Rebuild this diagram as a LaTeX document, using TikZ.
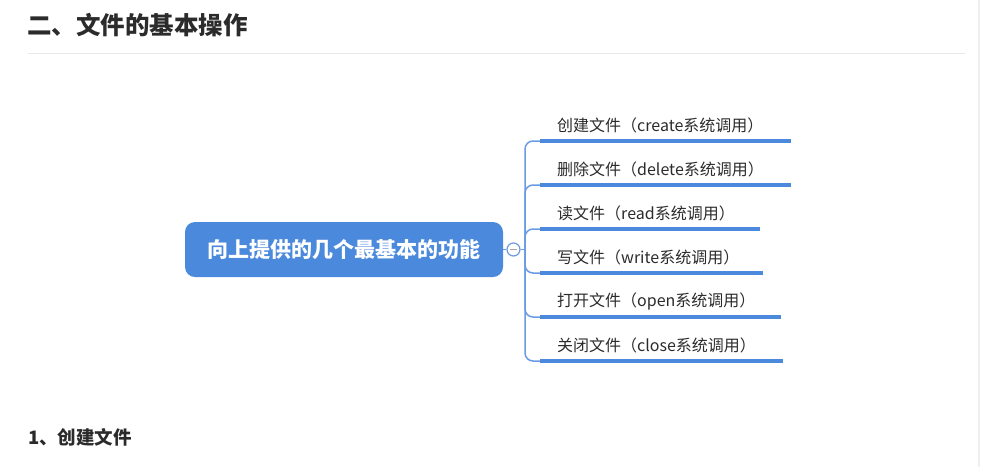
\documentclass[tikz,border=0pt]{standalone}
\usepackage{fontspec}
\setmainfont{Noto Sans CJK SC}
\usepackage{xcolor}
\usepackage{tikz}

\definecolor{mapblue}{HTML}{4A89DC}
\definecolor{linkblue}{HTML}{6A9BE2}
\definecolor{inkgray}{HTML}{2B2B2B}
\definecolor{rulegray}{HTML}{E8E8E8}

\begin{document}
\begin{tikzpicture}[x=1pt, y=-1pt,
  every node/.style={inner sep=0pt, text=inkgray},
  root/.style={rectangle, rounded corners=10pt, fill=mapblue, minimum width=318pt, minimum height=55pt, text=white, font=\fontsize{21}{25}\selectfont\bfseries},
  fold/.style={circle, draw=linkblue, fill=white, line width=1.2pt, minimum size=13pt},
  leaf/.style={anchor=west, font=\fontsize{16}{19}\selectfont},
  conn/.style={draw=linkblue, line width=1.5pt, rounded corners=8pt},
  bar/.style={draw=mapblue, line width=4pt}]
\useasboundingbox (0,0) rectangle (999,467);

% page text and rules
\node[anchor=west, font=\fontsize{24.5}{28}\selectfont\bfseries] (title) at (27,25) {二、文件的基本操作};
\coordinate (ruleL) at (28,53);
\coordinate (ruleR) at (965,53);
\draw[rulegray, line width=1pt] (ruleL) -- (ruleR);
\coordinate (edgeT) at (979,0);
\coordinate (edgeB) at (979,467);
\draw[rulegray!70, line width=1.5pt] (edgeT) -- (edgeB);
\node[anchor=west, font=\fontsize{18.5}{22}\selectfont\bfseries] (sub) at (28,437) {1、创建文件};

% mind map
\node[root] (root) at (344,249.5) {向上提供的几个最基本的功能};
\node[fold] (fold) at (513.5,249.5) {};
\draw[gray!70, line width=1.2pt] ([xshift=-3.5pt]fold.center) -- ([xshift=3.5pt]fold.center);
\coordinate (hub) at (525,249.5);
\draw[linkblue, line width=1.5pt] (root.east) -- (fold.west);
\draw[linkblue, line width=1.5pt] (fold.east) -- (hub);

\coordinate (s1) at (540,141); \coordinate (e1) at (791,141);
\coordinate (s2) at (540,185); \coordinate (e2) at (791,185);
\coordinate (s3) at (540,229); \coordinate (e3) at (760,229);
\coordinate (s4) at (540,273); \coordinate (e4) at (763,273);
\coordinate (s5) at (540,317); \coordinate (e5) at (781,317);
\coordinate (s6) at (540,361); \coordinate (e6) at (783,361);

\node[leaf] (create) at (557,125) {创建文件（create系统调用）};
\node[leaf] (delete) at (557,169) {删除文件（delete系统调用）};
\node[leaf] (read) at (557,213) {读文件（read系统调用）};
\node[leaf] (write) at (557,257) {写文件（write系统调用）};
\node[leaf] (open) at (557,301) {打开文件（open系统调用）};
\node[leaf] (close) at (557,345) {关闭文件（close系统调用）};

\draw[conn] (hub) |- (s1);
\draw[conn] (hub) |- (s2);
\draw[conn] (hub) |- (s3);
\draw[conn] (hub) |- (s4);
\draw[conn] (hub) |- (s5);
\draw[conn] (hub) |- (s6);

\draw[bar] (s1) -- (e1);
\draw[bar] (s2) -- (e2);
\draw[bar] (s3) -- (e3);
\draw[bar] (s4) -- (e4);
\draw[bar] (s5) -- (e5);
\draw[bar] (s6) -- (e6);
\end{tikzpicture}
\end{document}
